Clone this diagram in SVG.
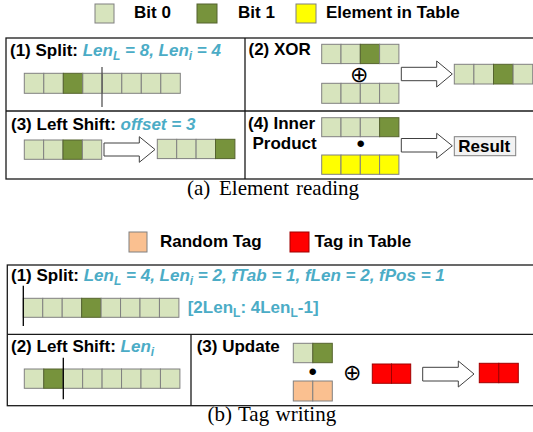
<svg xmlns="http://www.w3.org/2000/svg" width="533" height="432" viewBox="0 0 533 432">
<style>
.c0{fill:#d7e4bd;stroke:#808080;stroke-width:1}
.c1{fill:#77933c;stroke:#55632f;stroke-width:1}
.cy{fill:#ffff00;stroke:#808080;stroke-width:1}
.cp{fill:#fac090;stroke:#808080;stroke-width:1}
.cr{fill:#ff0000;stroke:#a00000;stroke-width:1}
.box{fill:none;stroke:#1a1a1a;stroke-width:1.3}
.lbl{font-family:"Liberation Sans",Arial,sans-serif;font-weight:bold;font-size:17px;fill:#000}
.blue{fill:#4bacc6;font-style:italic}
.bl{fill:#4bacc6}
.cap{font-family:"Liberation Serif","Times New Roman",serif;font-size:21px;fill:#000}
.arr{fill:#fff;stroke:#404040;stroke-width:1}
.sym{font-family:"DejaVu Sans",sans-serif;font-weight:200;font-size:22px;fill:#000;text-anchor:middle}
.dot{font-family:"Liberation Sans",Arial,sans-serif;font-size:24px;fill:#000;text-anchor:middle}
.split{stroke:#000;stroke-width:1.3}
</style>

<g id="legend-a">
  <rect class="c0" x="95" y="4" width="19" height="19"/>
  <text class="lbl" x="134" y="18">Bit 0</text>
  <rect class="c1" x="197" y="4" width="20" height="19"/>
  <text class="lbl" x="238" y="18">Bit 1</text>
  <rect class="cy" x="296" y="4" width="20" height="19"/>
  <text class="lbl" x="326" y="18">Element in Table</text>
</g>

<g id="frame-a">
  <rect class="box" x="6" y="38" width="540" height="141"/>
  <line class="box" x1="6" y1="111" x2="546" y2="111"/>
  <line class="box" x1="245" y1="38" x2="245" y2="179"/>
</g>

<g id="panel-a1">
  <text class="lbl" x="10" y="55.5">(1) Split: <tspan class="blue">Len<tspan font-size="12" dy="4">L</tspan><tspan dy="-4"> = 8, Len</tspan><tspan font-size="12" dy="4">i</tspan><tspan dy="-4"> = 4</tspan></tspan></text>
  <rect class="c0" x="24.3" y="73.3" width="19.5" height="20"/>
  <rect class="c0" x="43.8" y="73.3" width="19.5" height="20"/>
  <rect class="c1" x="63.3" y="73.3" width="19.5" height="20"/>
  <rect class="c0" x="82.8" y="73.3" width="19.5" height="20"/>
  <rect class="c0" x="102.3" y="73.3" width="19.5" height="20"/>
  <rect class="c0" x="121.8" y="73.3" width="19.5" height="20"/>
  <rect class="c0" x="141.3" y="73.3" width="19.5" height="20"/>
  <rect class="c0" x="160.8" y="73.3" width="19.5" height="20"/>
  <line x1="102" y1="67" x2="102" y2="107" stroke="#555" stroke-width="1.3"/>
</g>

<g id="panel-a2">
  <text class="lbl" x="248.5" y="55">(2) XOR</text>
  <rect class="c0" x="321.7" y="44.3" width="19.3" height="19.3"/>
  <rect class="c0" x="341" y="44.3" width="19.3" height="19.3"/>
  <rect class="c1" x="360.3" y="44.3" width="19.3" height="19.3"/>
  <rect class="c0" x="379.6" y="44.3" width="19.3" height="19.3"/>
  <text class="sym" x="359.3" y="82">⊕</text>
  <rect class="c0" x="321.7" y="83.3" width="19.3" height="20"/>
  <rect class="c0" x="341" y="83.3" width="19.3" height="20"/>
  <rect class="c0" x="360.3" y="83.3" width="19.3" height="20"/>
  <rect class="c0" x="379.6" y="83.3" width="19.3" height="20"/>
  <rect class="c0" x="454.3" y="64.3" width="19.6" height="19.7"/>
  <rect class="c0" x="473.9" y="64.3" width="19.6" height="19.7"/>
  <rect class="c1" x="493.5" y="64.3" width="19.6" height="19.7"/>
  <rect class="c0" x="513.1" y="64.3" width="19.6" height="19.7"/>
</g>

<g id="panel-a3">
  <text class="lbl" x="11" y="130">(3) Left Shift: <tspan class="blue">offset = 3</tspan></text>
  <rect class="c0" x="24.3" y="140" width="19.35" height="19.3"/>
  <rect class="c0" x="43.65" y="140" width="19.35" height="19.3"/>
  <rect class="c1" x="63" y="140" width="19.35" height="19.3"/>
  <rect class="c0" x="82.35" y="140" width="19.35" height="19.3"/>
  <rect class="c0" x="157.3" y="139.3" width="19.4" height="19.3"/>
  <rect class="c0" x="176.7" y="139.3" width="19.4" height="19.3"/>
  <rect class="c0" x="196.1" y="139.3" width="19.4" height="19.3"/>
  <rect class="c1" x="215.5" y="139.3" width="19.4" height="19.3"/>
</g>

<g id="panel-a4">
  <text class="lbl" x="248" y="128.5">(4) Inner</text>
  <text class="lbl" x="252.5" y="149">Product</text>
  <rect class="c0" x="321.7" y="117.7" width="19.3" height="19"/>
  <rect class="c0" x="341" y="117.7" width="19.3" height="19"/>
  <rect class="c0" x="360.3" y="117.7" width="19.3" height="19"/>
  <rect class="c1" x="379.6" y="117.7" width="19.3" height="19"/>
  <text class="dot" x="360.7" y="152.2">•</text>
  <rect class="cy" x="321.7" y="155" width="19.3" height="19.3"/>
  <rect class="cy" x="341" y="155" width="19.3" height="19.3"/>
  <rect class="cy" x="360.3" y="155" width="19.3" height="19.3"/>
  <rect class="cy" x="379.6" y="155" width="19.3" height="19.3"/>
  <rect x="454.3" y="136.7" width="61.4" height="19" fill="#f2f2f2" stroke="#808080" stroke-width="1"/>
  <text class="lbl" x="458.3" y="151.5">Result</text>
</g>

<g id="connectors">
  <polygon class="arr" points="401.3,67.3 436.7,67.3 436.7,61 452.3,74 436.7,87 436.7,80.7 401.3,80.7"/>
  <polygon class="arr" points="104,143 139.3,143 139.3,136.7 155,149.5 139.3,162.3 139.3,156 104,156"/>
  <polygon class="arr" points="401.3,138.5 436.7,138.5 436.7,133.3 452.3,145.8 436.7,158.3 436.7,152 401.3,152"/>
  <polygon class="arr" points="422.7,367.3 458.3,367.3 458.3,361 474,374 458.3,387 458.3,381 422.7,381"/>
</g>

<g id="caption-a">
  <text class="cap" x="187" y="195">(a)<tspan x="219">Element</tspan><tspan x="296">reading</tspan></text>
</g>

<g id="legend-b">
  <rect class="cp" x="129" y="232" width="18" height="20"/>
  <text class="lbl" x="160" y="247">Random Tag</text>
  <rect class="cr" x="290" y="232" width="19" height="20"/>
  <text class="lbl" x="314.5" y="247">Tag in Table</text>
</g>

<g id="frame-b">
  <rect class="box" x="7.3" y="265" width="540" height="140.7"/>
  <line class="box" x1="7.3" y1="334.3" x2="547" y2="334.3"/>
  <line class="box" x1="191" y1="334.3" x2="191" y2="405.7"/>
</g>

<g id="panel-b1">
  <text class="lbl" x="11" y="281">(1) Split: <tspan class="blue">Len<tspan font-size="12" dy="4">L</tspan><tspan dy="-4"> = 4, Len</tspan><tspan font-size="12" dy="4">i</tspan><tspan dy="-4"> = 2, fTab = 1, fLen = 2, fPos = 1</tspan></tspan></text>
  <rect class="c0" x="23.3" y="298.3" width="19.45" height="19"/>
  <rect class="c0" x="42.75" y="298.3" width="19.45" height="19"/>
  <rect class="c0" x="62.2" y="298.3" width="19.45" height="19"/>
  <rect class="c1" x="81.65" y="298.3" width="19.45" height="19"/>
  <rect class="c0" x="101.1" y="298.3" width="19.45" height="19"/>
  <rect class="c0" x="120.55" y="298.3" width="19.45" height="19"/>
  <rect class="c0" x="140" y="298.3" width="19.45" height="19"/>
  <rect class="c0" x="159.45" y="298.3" width="19.45" height="19"/>
  <line class="split" x1="23.3" y1="285.7" x2="23.3" y2="326"/>
  <text class="lbl bl" x="187.7" y="313">[2Len<tspan font-size="12" dy="4">L</tspan><tspan dy="-4">: 4Len</tspan><tspan font-size="12" dy="4">L</tspan><tspan dy="-4">-1]</tspan></text>
</g>

<g id="panel-b2">
  <text class="lbl" x="11" y="351.7">(2) Left Shift: <tspan class="blue">Len<tspan font-size="12" dy="4">i</tspan></tspan></text>
  <rect class="c0" x="24.3" y="369" width="19.45" height="19.3"/>
  <rect class="c1" x="43.75" y="369" width="19.45" height="19.3"/>
  <rect class="c0" x="63.2" y="369" width="19.45" height="19.3"/>
  <rect class="c0" x="82.65" y="369" width="19.45" height="19.3"/>
  <rect class="c0" x="102.1" y="369" width="19.45" height="19.3"/>
  <rect class="c0" x="121.55" y="369" width="19.45" height="19.3"/>
  <rect class="c0" x="141" y="369" width="19.45" height="19.3"/>
  <rect class="c0" x="160.45" y="369" width="19.45" height="19.3"/>
  <line class="split" x1="63.3" y1="357.7" x2="63.3" y2="399.3"/>
</g>

<g id="panel-b3">
  <text class="lbl" x="196.7" y="351.7">(3) Update</text>
  <rect class="c0" x="293.3" y="343.3" width="19.5" height="19.4"/>
  <rect class="c1" x="312.8" y="343.3" width="19.5" height="19.4"/>
  <text class="dot" x="312.7" y="379.6">•</text>
  <rect class="cp" x="293.3" y="381" width="19.5" height="20"/>
  <rect class="cp" x="312.8" y="381" width="19.5" height="20"/>
  <text class="sym" x="352.3" y="380.3">⊕</text>
  <rect class="cr" x="372.3" y="364" width="19.2" height="19.3"/>
  <rect class="cr" x="391.5" y="364" width="19.2" height="19.3"/>
  <rect class="cr" x="479.3" y="363.3" width="19.5" height="19.4"/>
  <rect class="cr" x="498.8" y="363.3" width="19.5" height="19.4"/>
</g>

<g id="caption-b">
  <text class="cap" x="207.5" y="421">(b)<tspan x="238">Tag</tspan><tspan x="275.5">writing</tspan></text>
</g>
</svg>
